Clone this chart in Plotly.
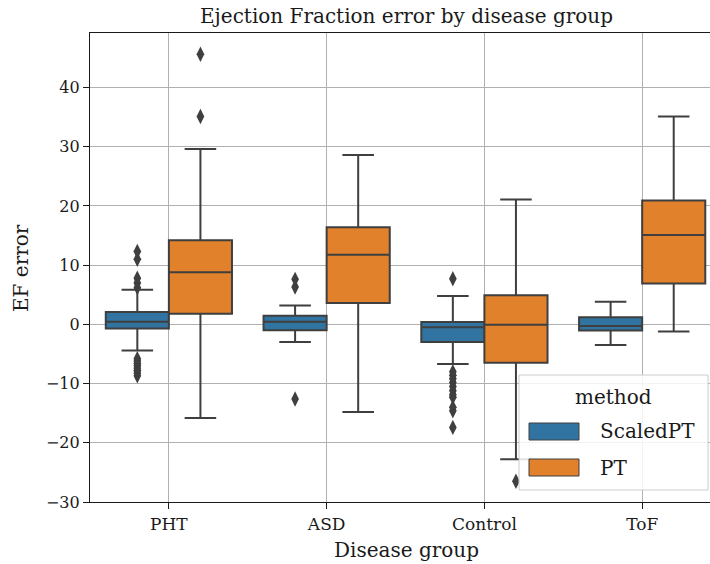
import plotly.graph_objects as go

# disease groups on the x axis
groups = ["PHT", "ASD", "Control", "ToF"]
methods = ["ScaledPT", "PT"]
colors = {"ScaledPT": "#3274a1", "PT": "#e1812c"}

# box statistics (EF error)
scaled_q1 = [-0.7, -1.0, -3.0, -1.05]
scaled_med = [0.45, 0.45, -0.5, -0.3]
scaled_q3 = [2.1, 1.45, 0.4, 1.2]
scaled_lo = [-4.4, -3.0, -6.7, -3.5]
scaled_hi = [5.85, 3.2, 4.8, 3.8]
scaled_out = [
    [12.3, 11.0, 7.8, 7.0, 6.2, -5.8, -6.2, -6.6, -7.0, -7.4, -7.8, -8.2, -8.7],
    [7.6, 6.3, -12.6],
    [7.7, -8.0, -8.6, -9.2, -9.8, -10.5, -11.2, -11.9, -12.3, -14.0, -14.6, -17.4],
    [],
]

pt_q1 = [1.8, 3.6, -6.5, 6.9]
pt_med = [8.8, 11.75, -0.05, 15.1]
pt_q3 = [14.2, 16.4, 4.9, 20.9]
pt_lo = [-15.8, -14.8, -22.8, -1.2]
pt_hi = [29.6, 28.6, 21.1, 35.1]
pt_out = [[45.6, 35.1], [], [-26.5], []]

stats = {
    "ScaledPT": (scaled_q1, scaled_med, scaled_q3, scaled_lo, scaled_hi, scaled_out),
    "PT": (pt_q1, pt_med, pt_q3, pt_lo, pt_hi, pt_out),
}

FONT = "DejaVu Serif"
INK = "#1a1a1a"
EDGE = "#3f3f3f"

# axes box in pixels (right side runs past the figure edge like the original)
L, R, T, B = 90, 710, 33, 502

fig = go.Figure()
for m in methods:
    q1, med, q3, lo, hi, out = stats[m]
    fig.add_trace(go.Box(
        name=m, x=groups, y=out,
        q1=q1, median=med, q3=q3, lowerfence=lo, upperfence=hi,
        boxpoints="all", jitter=0, pointpos=0,
        fillcolor=colors[m], line=dict(color=EDGE, width=2),
        marker=dict(symbol="diamond-tall", size=11, color=EDGE),
        whiskerwidth=0.5, offsetgroup=m, showlegend=False,
    ))

fig.update_layout(
    width=710, height=564,
    margin=dict(l=L, r=710 - R, t=T, b=564 - B),
    paper_bgcolor="white", plot_bgcolor="white",
    boxmode="group", boxgap=0.2, boxgroupgap=0,
    font=dict(family=FONT, color=INK, size=16),
)
fig.update_xaxes(
    type="category", range=[-0.5, 3.43],
    showgrid=True, gridcolor="#b0b0b0", gridwidth=1,
    showline=True, linecolor="#1a1a1a", linewidth=1.2, mirror=True,
    ticks="outside", ticklen=6, tickcolor="#1a1a1a",
    tickfont=dict(size=17),
)
fig.update_yaxes(
    range=[-30, 49.2], tickvals=[-30, -20, -10, 0, 10, 20, 30, 40],
    ticktext=["\u221230", "\u221220", "\u221210", "0", "10", "20", "30", "40"],
    showgrid=True, gridcolor="#b0b0b0", gridwidth=1, zeroline=False,
    showline=True, linecolor="#1a1a1a", linewidth=1.2,
    ticks="outside", ticklen=6, tickcolor="#1a1a1a",
    tickfont=dict(size=16),
)


def px(x, y):
    # pixel position -> paper coords of the plot area
    return (x - L) / (R - L), (B - y) / (B - T)


def label(text, x, y, size, xanchor="center", angle=0):
    ax, ay = px(x, y)
    fig.add_annotation(text=text, xref="paper", yref="paper", x=ax, y=ay,
                       xanchor=xanchor, yanchor="middle", showarrow=False,
                       textangle=angle, font=dict(size=size))


# title and axis labels, centred on the (cropped) axes box
label("Ejection Fraction error by disease group", 406, 16, 20)
label("Disease group", 406, 550, 20)
label("EF error", 21, 268, 20, angle=-90)

# legend drawn like the matplotlib one
x0, y0 = px(519, 375)
x1, y1 = px(708, 490)
fig.add_shape(type="rect", xref="paper", yref="paper", x0=x0, y0=y0, x1=x1, y1=y1,
              line=dict(color="#cccccc", width=1), fillcolor="rgba(255,255,255,0.85)", layer="above")
label("method", 613, 397, 20)
for m, (ya, yb) in zip(methods, [(423, 440), (459, 476)]):
    a0, b0 = px(529, ya)
    a1, b1 = px(579, yb)
    fig.add_shape(type="rect", xref="paper", yref="paper", x0=a0, y0=b0, x1=a1, y1=b1,
                  line=dict(color=EDGE, width=1), fillcolor=colors[m], layer="above")
    label(m, 598, (ya + yb) / 2, 20, xanchor="left")

fig.write_html("out.html", config={"displayModeBar": False},
               post_script="document.body.style.margin='0';")
